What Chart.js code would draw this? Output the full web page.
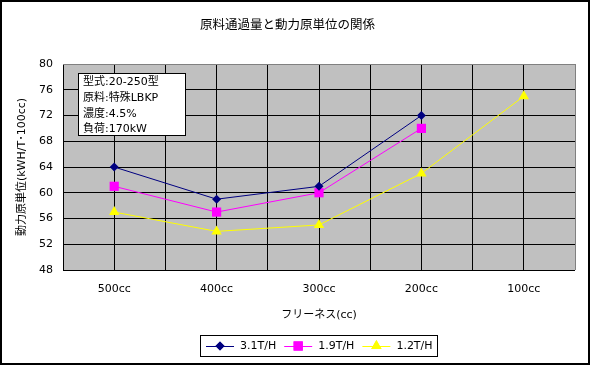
<!DOCTYPE html>
<html>
<head>
<meta charset="utf-8">
<script src="https://cdn.jsdelivr.net/npm/chart.js@4"></script>
<style>
  body { margin: 0; background: #fff; }
</style>
</head>
<body>
<canvas class="js-chart" width="590" height="365"></canvas>
<script>
const ctx = document.querySelector('.js-chart').getContext('2d');
const FONT = '"DejaVu Sans", "Noto Sans CJK JP", sans-serif';

const freeness = ['500cc', '400cc', '300cc', '200cc', '100cc'];
const seriesNames = ['3.1T/H', '1.9T/H', '1.2T/H'];
const flow31 = [64, 59, 61, 72, null];
const flow19 = [61, 57, 60, 70, null];
const flow12 = [57, 54, 55, 63, 75];
const yTicks = [48, 52, 56, 60, 64, 68, 72, 76, 80];
const noteLines = ['型式:20-250型', '原料:特殊LBKP', '濃度:4.5%', '負荷:170kW'];

Chart.defaults.font.family = FONT;
Chart.defaults.font.size = 11;
Chart.defaults.color = '#000';

function toPoints(values) {
    return values.map((y, x) => ({ x, y }));
}

const series = [
    { label: seriesNames[0], data: toPoints(flow31), color: '#000080', style: 'rectRot', radius: 4.5 },
    { label: seriesNames[1], data: toPoints(flow19), color: '#FF00FF', style: 'rect', radius: 6.5 },
    { label: seriesNames[2], data: toPoints(flow12), color: '#FFFF00', style: 'triangle', radius: 6 },
];

// 背景・注記ボックス・凡例・外枠
const decorations = {
    id: 'decorations',
    beforeDraw(chart) {
        const { ctx, chartArea: a } = chart;
        ctx.save();
        ctx.fillStyle = '#fff';
        ctx.fillRect(0, 0, chart.width, chart.height);
        ctx.fillStyle = '#C0C0C0';
        ctx.fillRect(a.left, a.top, a.right - a.left, a.bottom - a.top);
        ctx.restore();
    },
    afterDraw(chart) {
        const { ctx } = chart;
        ctx.save();

        // note box
        ctx.fillStyle = '#fff';
        ctx.strokeStyle = '#000';
        ctx.lineWidth = 1;
        ctx.fillRect(78.5, 73.5, 107, 62);
        ctx.strokeRect(78.5, 73.5, 107, 62);
        ctx.fillStyle = '#000';
        ctx.font = '11px ' + FONT;
        ctx.textBaseline = 'middle';
        ctx.textAlign = 'left';
        noteLines.forEach((t, i) => ctx.fillText(t, 83, 82.5 + i * 15.6));

        // legend
        ctx.fillStyle = '#fff';
        ctx.fillRect(200.5, 335.5, 237, 21);
        ctx.strokeRect(200.5, 335.5, 237, 21);
        let x = 206;
        const y = 346;
        series.forEach(s => {
            ctx.strokeStyle = s.color;
            ctx.lineWidth = 1;
            ctx.beginPath();
            ctx.moveTo(x, y + 0.5);
            ctx.lineTo(x + 28, y + 0.5);
            ctx.stroke();
            ctx.fillStyle = s.color;
            Chart.helpers.drawPoint(ctx, { pointStyle: s.style, radius: s.radius, borderWidth: 0 }, x + 14, y);
            ctx.fill();
            ctx.fillStyle = '#000';
            ctx.fillText(s.label, x + 34, y);
            x += 34 + ctx.measureText(s.label).width + 8;
        });

        // outer frame
        ctx.strokeStyle = '#000';
        ctx.lineWidth = 2;
        ctx.strokeRect(1, 1, chart.width - 2, chart.height - 2);
        ctx.restore();
    }
};

new Chart(ctx, {
    type: 'line',
    data: {
        datasets: series.map(s => ({
            label: s.label,
            data: s.data,
            borderColor: s.color,
            backgroundColor: s.color,
            borderWidth: 1,
            pointStyle: s.style,
            pointRadius: s.radius,
            pointBorderWidth: 0,
            pointHoverRadius: s.radius,
            spanGaps: false,
        }))
    },
    options: {
        responsive: false,
        animation: false,
        devicePixelRatio: 1,
        layout: { padding: { left: 0, top: 0, right: 15, bottom: 35 } },
        plugins: {
            legend: { display: false },
            tooltip: { enabled: false },
            title: {
                display: true,
                text: '原料通過量と動力原単位の関係',
                font: { size: 12.5, weight: 'normal' },
                padding: { top: 18.5, bottom: 30.5 },
            },
        },
        scales: {
            x: {
                type: 'linear',
                min: -0.5,
                max: 4.5,
                afterFit(scale) { scale.height = 60; },
                ticks: {
                    stepSize: 0.5,
                    autoSkip: false,
                    maxRotation: 0,
                    padding: 13,
                    callback(value) {
                        return Number.isInteger(value) ? freeness[value] : '';
                    }
                },
                grid: {
                    drawTicks: false,
                    color: c => (c.tick && c.tick.value === 4.5 ? '#808080' : '#000'),
                },
                border: { display: false },
                title: {
                    display: true,
                    text: 'フリーネス(cc)',
                    padding: { top: 0, bottom: 8 },
                },
            },
            y: {
                min: yTicks[0],
                max: yTicks[yTicks.length - 1],
                afterFit(scale) { scale.width = 63; },
                afterBuildTicks(scale) { scale.ticks = yTicks.map(value => ({ value })); },
                ticks: { padding: 10 },
                grid: {
                    drawTicks: false,
                    color: c => (c.tick && c.tick.value === 80 ? '#808080' : '#000'),
                },
                border: { display: false },
                title: {
                    display: true,
                    text: '動力原単位(kWH/T･100cc)',
                    padding: { top: 16, bottom: 0 },
                },
            },
        },
    },
    plugins: [decorations],
});
</script>
</body>
</html>
